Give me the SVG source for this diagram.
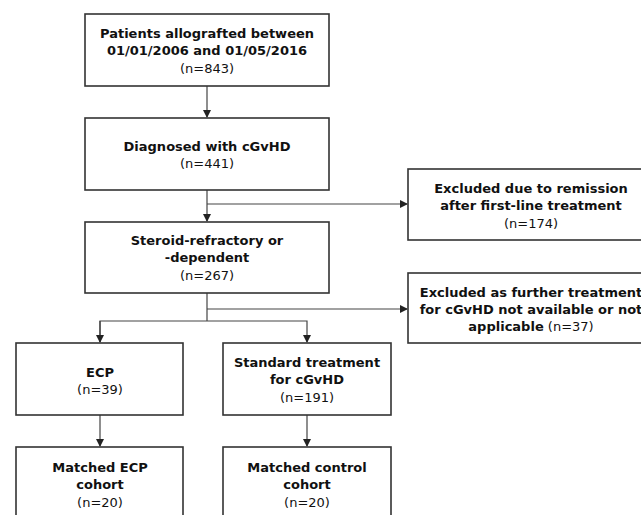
<svg xmlns="http://www.w3.org/2000/svg" width="641" height="515" viewBox="0 0 641 515">
<style>
.box{fill:#fff;stroke:#333;stroke-width:1.6}
.ln{fill:none;stroke:#444;stroke-width:1.2}
text{font-family:"DejaVu Sans",Verdana,sans-serif;font-size:13px;fill:#111;text-anchor:middle}
.b{font-weight:bold}
</style>
<defs>
<marker id="ah" markerWidth="8" markerHeight="8" refX="7" refY="4" orient="auto" markerUnits="userSpaceOnUse">
<path d="M0,0 L8,4 L0,8 z" fill="#222"/>
</marker>
</defs>
<rect width="641" height="515" fill="#fff"/>
<g id="connectors">
<line class="ln" x1="207" y1="86" x2="207" y2="117" marker-end="url(#ah)"/>
<line class="ln" x1="207" y1="190" x2="207" y2="221" marker-end="url(#ah)"/>
<line class="ln" x1="207" y1="204" x2="407" y2="204" marker-end="url(#ah)"/>
<line class="ln" x1="207" y1="293" x2="207" y2="321"/>
<line class="ln" x1="207" y1="309" x2="407" y2="309" marker-end="url(#ah)"/>
<polyline class="ln" points="100,342 100,321 307,321 307,342" marker-end="url(#ah)"/>
<line class="ln" x1="100" y1="321" x2="100" y2="342" marker-end="url(#ah)"/>
<line class="ln" x1="100" y1="415" x2="100" y2="446" marker-end="url(#ah)"/>
<line class="ln" x1="307" y1="415" x2="307" y2="446" marker-end="url(#ah)"/>
</g>
<g id="n1">
<rect class="box" x="85" y="14" width="244" height="72"/>
<text x="207" y="38" class="b">Patients allografted between</text>
<text x="207" y="55" class="b">01/01/2006 and 01/05/2016</text>
<text x="207" y="73">(n=843)</text>
</g>
<g id="n2">
<rect class="box" x="85" y="118" width="244" height="72"/>
<text x="207" y="151" class="b">Diagnosed with cGvHD</text>
<text x="207" y="168">(n=441)</text>
</g>
<g id="n3">
<rect class="box" x="85" y="222" width="244" height="71"/>
<text x="207" y="245" class="b">Steroid-refractory or</text>
<text x="207" y="262" class="b">-dependent</text>
<text x="207" y="280">(n=267)</text>
</g>
<g id="ex1">
<rect class="box" x="408" y="169" width="250" height="71"/>
<text x="531" y="193" class="b">Excluded due to remission</text>
<text x="531" y="210" class="b">after first-line treatment</text>
<text x="531" y="228">(n=174)</text>
</g>
<g id="ex2">
<rect class="box" x="408" y="273" width="250" height="70"/>
<text x="531" y="297" class="b">Excluded as further treatment</text>
<text x="531" y="314" class="b">for cGvHD not available or not</text>
<text x="531" y="331"><tspan class="b">applicable</tspan> (n=37)</text>
</g>
<g id="ecp">
<rect class="box" x="16" y="343" width="167" height="72"/>
<text x="100" y="377" class="b">ECP</text>
<text x="100" y="394">(n=39)</text>
</g>
<g id="std">
<rect class="box" x="223" y="343" width="168" height="72"/>
<text x="307" y="367" class="b">Standard treatment</text>
<text x="307" y="384" class="b">for cGvHD</text>
<text x="307" y="402">(n=191)</text>
</g>
<g id="mecp">
<rect class="box" x="16" y="447" width="167" height="80"/>
<text x="100" y="472" class="b">Matched ECP</text>
<text x="100" y="489" class="b">cohort</text>
<text x="100" y="507">(n=20)</text>
</g>
<g id="mctl">
<rect class="box" x="223" y="447" width="168" height="80"/>
<text x="307" y="472" class="b">Matched control</text>
<text x="307" y="489" class="b">cohort</text>
<text x="307" y="507">(n=20)</text>
</g>
</svg>
